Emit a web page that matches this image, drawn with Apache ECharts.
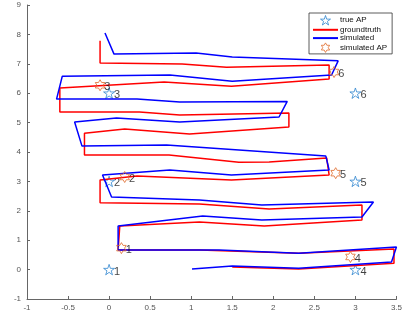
<!DOCTYPE html>
<html><head><meta charset="utf-8">
<script src="https://cdn.jsdelivr.net/npm/echarts@6/dist/echarts.min.js"></script>
<style>html,body{margin:0;padding:0;background:#fff}#c{width:405px;height:320px}</style>
</head><body><div id="c"></div>
<script>
// ---- data ----
const apLabels = ['1','2','3','4','5','6'];
const trueAP = [[0,0],[0,3],[0,6],[3,0],[3,3],[3,6]];
const simAP = [[0.15,0.73],[0.19,3.15],[-0.11,6.27],[2.94,0.43],[2.76,3.28],[2.74,6.72]];
const groundTruth = [
  [-0.11,7.78],[-0.11,7.03],[0.89,6.99],[1.43,6.88],[2.68,6.96],[2.68,6.48],
  [1.49,6.24],[0.67,6.38],[-0.60,6.18],[-0.60,5.36],[0.37,5.36],[0.86,5.26],[2.19,5.33],
  [2.19,4.85],[0.98,4.61],[0.19,4.78],[-0.30,4.64],[-0.30,3.90],[0.73,3.90],[1.58,3.65],[1.95,3.66],[2.65,3.80],
  [2.68,3.22],[1.49,3.05],[0.34,3.18],[-0.11,3.05],[-0.11,2.27],[1.10,2.23],[1.95,2.06],[3.08,2.20],
  [3.08,1.69],[1.89,1.48],[1.10,1.62],[0.13,1.48],[0.11,0.67],[1.10,0.67],[2.31,0.56],[3.47,0.70],
  [3.47,0.22],[2.31,0.02],[1.50,0.09]
];
const simulated = [
  [-0.05,8.05],[0.06,7.33],[1.06,7.37],[1.50,7.23],[2.79,7.10],[2.71,6.62],
  [1.50,6.41],[0.74,6.62],[-0.57,6.58],[-0.64,5.80],[0.34,5.80],[0.86,5.70],[2.17,5.72],
  [2.07,5.19],[0.86,5.02],[0.09,5.16],[-0.42,5.02],[-0.33,4.20],[0.70,4.24],[2.64,3.86],
  [2.68,3.39],[1.49,3.22],[0.74,3.39],[-0.08,3.22],[0.03,2.47],[1.10,2.37],[1.86,2.20],[3.22,2.30],
  [3.08,1.79],[1.86,1.69],[1.14,1.82],[0.11,1.48],[0.11,0.67],[1.34,0.67],[2.31,0.56],[3.50,0.77],
  [3.44,0.26],[2.31,0.05],[1.50,0.12],[1.01,0.02]
];
const xTicks = ['-1','-0.5','0','0.5','1','1.5','2','2.5','3','3.5'];
const yTicks = ['-1','0','1','2','3','4','5','6','7','8','9'];

const pentagram = 'path://M10 0 L12.25 6.91 L19.51 6.91 L13.63 11.18 L15.88 18.09 L10 13.82 L4.12 18.09 L6.37 11.18 L0.49 6.91 L7.75 6.91 Z';
const hexagram = 'path://M10 0 L12.89 5 L18.66 5 L15.77 10 L18.66 15 L12.89 15 L10 20 L7.11 15 L1.34 15 L4.23 10 L1.34 5 L7.11 5 Z';
const lineIcon = 'path://M0 0 H50 V4 H0 Z';

const toPts = (arr) => arr.map((p,i)=>({value:p, name:apLabels[i]}));

const chart = echarts.init(document.getElementById('c'));
chart.setOption({
  animation:false,
  grid:{left:27,right:7,top:5,bottom:21,containLabel:false},
  xAxis:{type:'value',min:-1,max:3.5,interval:0.5,
    axisLine:{show:true,onZero:false,lineStyle:{color:'#666',width:1}},
    axisTick:{show:true,inside:true,length:3,lineStyle:{color:'#666'}},
    axisLabel:{color:'#555',fontSize:8,fontFamily:'Liberation Sans, Arial',margin:5,
      formatter:v=>xTicks[Math.round((v+1)*2)]},
    splitLine:{show:false}},
  yAxis:{type:'value',min:-1,max:9,interval:1,
    axisLine:{show:true,onZero:false,lineStyle:{color:'#666',width:1}},
    axisTick:{show:true,inside:true,length:3,lineStyle:{color:'#666'}},
    axisLabel:{color:'#555',fontSize:8,fontFamily:'Liberation Sans, Arial',margin:6,
      formatter:v=>yTicks[Math.round(v+1)]},
    splitLine:{show:false}},
  legend:{orient:'vertical',left:309,top:13,padding:[2,5,1,4],itemGap:0.3,
    itemWidth:25,itemHeight:9.5,borderColor:'#333',borderWidth:0.8,backgroundColor:'#fff',
    symbolKeepAspect:true,
    textStyle:{fontSize:8,color:'#111',fontFamily:'Liberation Sans, Arial',padding:[0,0,0,-3]},
    data:[
      {name:'true AP',icon:pentagram,itemStyle:{color:'#fff',borderColor:'#2f86d0',borderWidth:1}},
      {name:'groundtruth',icon:lineIcon,itemStyle:{color:'#ff0000',borderWidth:0}},
      {name:'simulated',icon:lineIcon,itemStyle:{color:'#0000ff',borderWidth:0}},
      {name:'simulated AP',icon:hexagram,itemStyle:{color:'#fff',borderColor:'#e06a2a',borderWidth:1}}
    ]},
  series:[
    {name:'true AP',type:'scatter',symbol:pentagram,symbolSize:11,symbolKeepAspect:true,
      itemStyle:{color:'rgba(255,255,255,0)',borderColor:'#2f86d0',borderWidth:1},
      label:{show:true,position:'right',distance:-1,offset:[0,2],formatter:'{b}',color:'#111',fontSize:11,fontFamily:'Liberation Sans, Arial'},
      data:toPts(trueAP),z:2},
    {name:'groundtruth',type:'line',symbol:'none',showSymbol:false,
      lineStyle:{color:'#ff0000',width:1.5},itemStyle:{color:'#ff0000'},data:groundTruth,z:3},
    {name:'simulated',type:'line',symbol:'none',showSymbol:false,
      lineStyle:{color:'#0000ff',width:1.5},itemStyle:{color:'#0000ff'},data:simulated,z:4},
    {name:'simulated AP',type:'scatter',symbol:hexagram,symbolSize:11,symbolKeepAspect:true,
      itemStyle:{color:'rgba(255,255,255,0)',borderColor:'#e06a2a',borderWidth:1},
      label:{show:true,position:'right',distance:-1,offset:[0,2],formatter:'{b}',color:'#111',fontSize:11,fontFamily:'Liberation Sans, Arial'},
      data:toPts(simAP),z:5}
  ]
});
</script></body></html>
